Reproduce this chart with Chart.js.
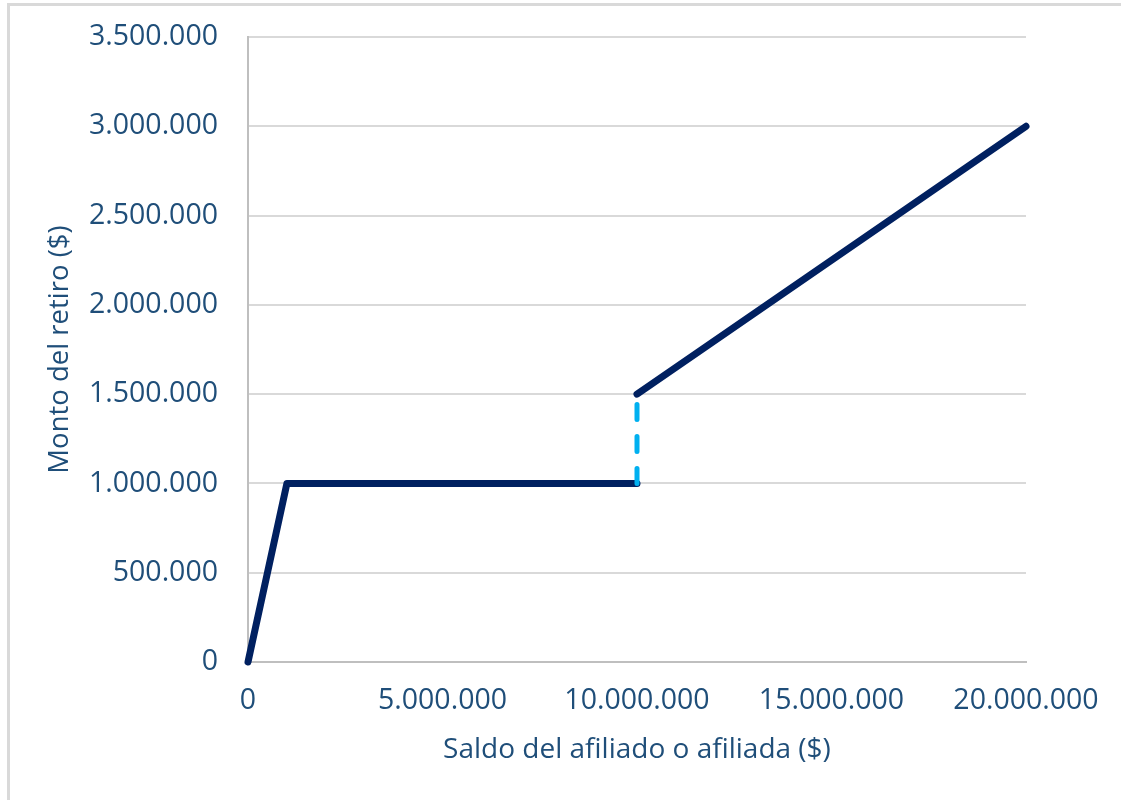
<!DOCTYPE html>
<html lang="es">
<head>
<meta charset="utf-8">
<title>Monto del retiro según saldo</title>
<script src="https://cdn.jsdelivr.net/npm/chart.js@4.4.1/dist/chart.umd.min.js"></script>
<style>
  html, body { margin: 0; padding: 0; background: #fff; }
  #wrap { position: relative; width: 1121px; height: 800px; overflow: hidden; }
  #frame {
    position: absolute; left: 7px; top: 3px; width: 1200px; height: 900px;
    border-left: 3px solid #d9d9d9; border-top: 3px solid #d9d9d9;
  }
  #retiroChart { position: absolute; left: 0; top: 0; }
</style>
</head>
<body>
<div id="wrap">
  <div id="frame"></div>
  <canvas id="retiroChart" width="1121" height="800"></canvas>
</div>
<script>
// Tramo inicial: retiro total hasta 1 millón, luego tope de 1 millón
const saldoTramo1 = [0, 1000000, 10000000];
const retiroTramo1 = [0, 1000000, 1000000];

// Salto en 10 millones
const saldoSalto = [10000000, 10000000];
const retiroSalto = [1000000, 1500000];

// Sobre 10 millones: 15% del saldo
const saldoTramo2 = [10000000, 20000000];
const retiroTramo2 = [1500000, 3000000];

const xTicks = [0, 5000000, 10000000, 15000000, 20000000];
const yTicks = [0, 500000, 1000000, 1500000, 2000000, 2500000, 3000000, 3500000];

const textColor = '#1f4e79';
const fontFamily = "'Open Sans', sans-serif";

function toPoints(xs, ys) {
  return xs.map((x, i) => ({ x: x, y: ys[i] }));
}

function formatMiles(value) {
  return String(Math.round(value)).replace(/\B(?=(\d{3})+(?!\d))/g, '.');
}

const mainLine = {
  borderColor: '#002060',
  borderWidth: 7,
  pointRadius: 0,
  showLine: true,
  fill: false,
  tension: 0,
  borderCapStyle: 'round',
  borderJoinStyle: 'round',
  clip: false,
  order: 1
};

const ctx = document.getElementById('retiroChart').getContext('2d');

new Chart(ctx, {
  type: 'scatter',
  data: {
    datasets: [
      Object.assign({ label: 'Tramo 1', data: toPoints(saldoTramo1, retiroTramo1) }, mainLine),
      Object.assign({ label: 'Tramo 2', data: toPoints(saldoTramo2, retiroTramo2) }, mainLine),
      {
        label: 'Salto',
        data: toPoints(saldoSalto, retiroSalto),
        borderColor: '#00b0f0',
        borderWidth: 5,
        borderDash: [15, 17],
        borderCapStyle: 'round',
        pointRadius: 0,
        showLine: true,
        fill: false,
        clip: false,
        order: 0
      }
    ]
  },
  options: {
    responsive: false,
    animation: false,
    layout: { padding: { left: 0, top: 37, right: 95, bottom: 0 } },
    plugins: {
      legend: { display: false },
      tooltip: { enabled: false }
    },
    scales: {
      x: {
        type: 'linear',
        min: 0,
        max: 20000000,
        afterBuildTicks: (axis) => { axis.ticks = xTicks.map(v => ({ value: v })); },
        afterFit: (axis) => {
          axis.height = 138;
          axis.paddingLeft = 0;
          axis.paddingRight = 0;
        },
        grid: { display: false, drawTicks: false },
        border: { display: true, color: '#bfbfbf', width: 2 },
        ticks: {
          color: textColor,
          padding: 22,
          maxRotation: 0,
          font: { family: fontFamily, size: 28.5 },
          callback: (v) => formatMiles(v)
        },
        title: {
          display: true,
          text: 'Saldo del afiliado o afiliada ($)',
          color: textColor,
          padding: { top: 0, bottom: 33 },
          font: { family: fontFamily, size: 28 }
        }
      },
      y: {
        type: 'linear',
        min: 0,
        max: 3500000,
        afterBuildTicks: (axis) => { axis.ticks = yTicks.map(v => ({ value: v })); },
        afterFit: (axis) => {
          axis.width = 248;
          axis.paddingTop = 0;
          axis.paddingBottom = 0;
        },
        grid: { color: '#d9d9d9', lineWidth: 2, drawTicks: false },
        border: { display: true, color: '#bfbfbf', width: 2 },
        ticks: {
          color: textColor,
          padding: 30,
          font: { family: fontFamily, size: 28.5 },
          callback: (v) => formatMiles(v)
        },
        title: {
          display: true,
          text: 'Monto del retiro ($)',
          color: textColor,
          padding: { top: 44, bottom: 0 },
          font: { family: fontFamily, size: 27.5 }
        }
      }
    }
  }
});
</script>
</body>
</html>
